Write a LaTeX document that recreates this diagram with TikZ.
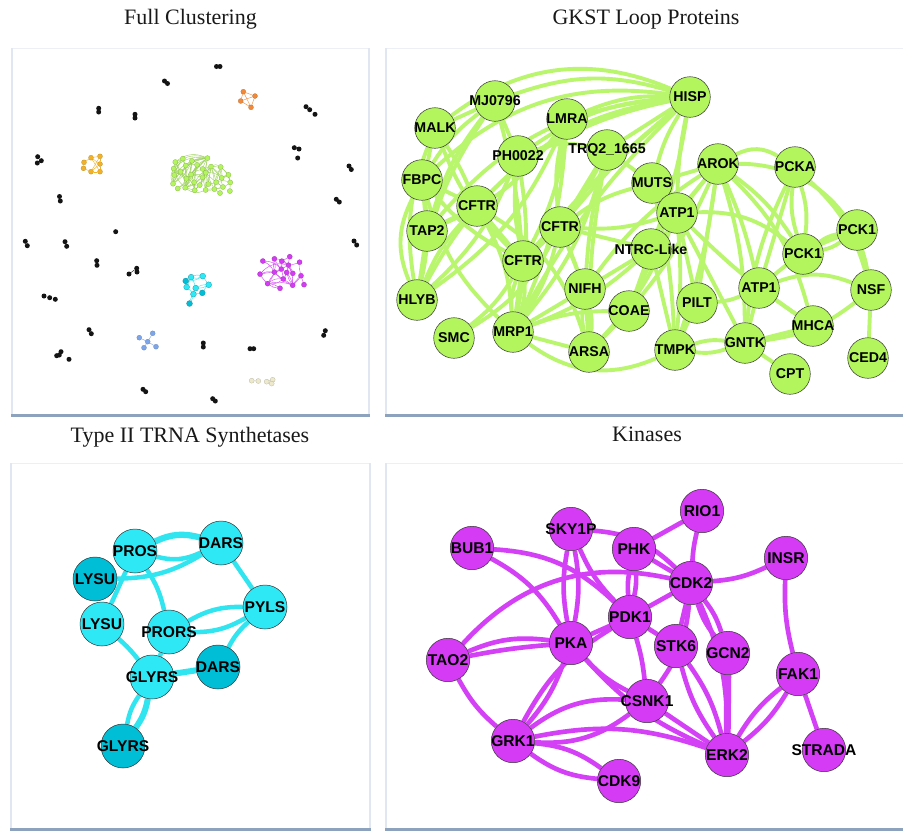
\documentclass[tikz,border=0pt]{standalone}
\usepackage{fontspec}
\setmainfont{Liberation Serif}
\newfontfamily\labelfont{Liberation Sans}

\definecolor{gfill}{RGB}{178,245,92}
\definecolor{gline}{RGB}{185,246,110}
\definecolor{cfill}{RGB}{46,233,245}
\definecolor{cdark}{RGB}{0,190,214}
\definecolor{cline}{RGB}{48,228,240}
\definecolor{mfill}{RGB}{213,58,245}
\definecolor{mline}{RGB}{211,64,245}
\definecolor{ofill}{RGB}{240,138,58}
\definecolor{yfill}{RGB}{242,178,40}
\definecolor{bfill}{RGB}{125,166,234}
\definecolor{efill}{RGB}{236,233,204}
\definecolor{frameside}{RGB}{224,231,240}
\definecolor{frametop}{RGB}{236,240,246}
\definecolor{framebar}{RGB}{141,162,188}

\pgfdeclarelayer{panels}
\pgfdeclarelayer{links}
\pgfsetlayers{panels,links,main}

% x/y/name/label
\def\gkstnodes{690/97/hisp/HISP, 495/101/mj/MJ0796, 567/119/lmra/LMRA, 435/128/malk/MALK,
 607/150/trq/TRQ2\_1665, 518/156/ph/PH0022, 718/164/arok/AROK, 795/167/pcka/PCKA,
 422/180/fbpc/FBPC, 652/183/muts/MUTS, 477/206/cftra/CFTR, 677/213/atpa/ATP1,
 560/227/cftrb/CFTR, 427/231/tap/TAP2, 857/230/pkone/PCK1, 651/249/ntrc/NTRC-Like,
 803/254/pktwo/PCK1, 523/261/cftrc/CFTR, 585/289/nifh/NIFH, 759/288/atpb/ATP1,
 871/290/nsf/NSF, 417/300/hlyb/HLYB, 697/303/pilt/PILT, 629/311/coae/COAE,
 813/326/mhca/MHCA, 454/338/smc/SMC, 513/332/mrp/MRP1, 589/352/arsa/ARSA,
 675/350/tmpk/TMPK, 745/343/gntk/GNTK, 868/358/ced/CED4, 790/374/cpt/CPT}

% from/to/bend/width
\def\gkstlinks{malk/hisp/30/3, mj/hisp/18/3, fbpc/hisp/25/3, lmra/hisp/12/3, ph/hisp/15/3,
 tap/hisp/22/3, hlyb/hisp/25/3, cftra/hisp/18/3, trq/hisp/0/3, hisp/muts/-8/3,
 hisp/cftrb/-5/3, hisp/cftrc/-5/3, hisp/mrp/-8/3, hisp/atpa/-5/3, hisp/ntrc/5/3,
 malk/hlyb/-15/3, malk/tap/-8/3, mj/malk/0/3, mj/fbpc/-10/3, mj/tap/-10/3, mj/hlyb/-12/3,
 mj/cftrc/5/3, mj/ph/0/3, fbpc/tap/0/3, fbpc/hlyb/-25/3, fbpc/hlyb/10/3, tap/hlyb/0/3,
 fbpc/cftra/0/3, fbpc/cftrc/-10/3, fbpc/mrp/-15/3, malk/cftrc/-12/3, malk/cftra/5/3,
 tap/cftra/0/3, hlyb/cftra/10/3, tap/lmra/-15/3, hlyb/ph/-12/3, hlyb/lmra/-15/3,
 cftra/cftrc/0/3, cftra/mrp/12/3, cftra/arsa/20/3, ph/trq/15/3, ph/mrp/10/3, ph/cftrc/-8/3,
 smc/cftrc/-10/3, smc/cftrb/-15/3, cftrc/mrp/12/3, cftrc/mrp/-12/3, cftrc/mrp/0/3,
 cftrc/cftrb/0/3, cftrb/mrp/10/3, cftrb/nifh/0/3, cftrb/arsa/10/3, cftrb/atpa/-10/3,
 cftrb/ntrc/0/3, cftrb/trq/0/3, cftrb/lmra/10/3, trq/muts/0/3, trq/mrp/12/3, trq/nifh/-5/3,
 trq/cftrc/10/3, trq/arsa/-5/3, lmra/mrp/10/3, lmra/cftrc/10/3, muts/atpa/0/3,
 muts/tmpk/5/3, muts/cftrb/-10/3, ntrc/nifh/0/3, ntrc/coae/0/3, ntrc/tmpk/0/3,
 ntrc/mrp/10/3, nifh/arsa/10/3, nifh/arsa/-10/3, nifh/mrp/0/3, coae/arsa/0/3,
 coae/mrp/-10/3, coae/arok/8/3, mrp/arsa/0/3, mrp/tmpk/-30/3, arsa/atpa/-10/3,
 arsa/arok/-10/3, arok/pcka/30/3, arok/nsf/40/3, arok/pktwo/10/3, arok/atpb/5/3,
 arok/pilt/0/3, arok/tmpk/5/3, arok/gntk/8/3, arok/mhca/15/3, arok/nifh/-10/3,
 arok/atpa/0/3, arok/muts/0/3, pcka/pktwo/12/3, pcka/pktwo/-12/3, pcka/nsf/15/3,
 pcka/gntk/-10/3, pcka/atpb/0/3, pkone/pktwo/12/3, pkone/pktwo/-12/3, pkone/nsf/0/3,
 pkone/atpb/-10/3, atpa/pktwo/20/3, atpa/pilt/0/3, atpa/tmpk/5/3, atpa/gntk/0/3,
 atpa/mhca/-5/3, atpb/nsf/20/3, atpb/mhca/0/3, atpb/gntk/0/3, atpb/pilt/10/3,
 nsf/ced/0/3, nsf/gntk/15/3, mhca/gntk/0/3, gntk/cpt/0/3, gntk/tmpk/12/3,
 gntk/tmpk/-12/3, pilt/tmpk/0/3}

\def\kinnodes{702/511/rio/RIO1, 571/529/sky/SKY1P, 472/548/bub/BUB1, 634/549/phk/PHK,
 786/558/insr/INSR, 691/583/cdk/CDK2, 630/617/pdk/PDK1, 571/643/pka/PKA,
 676/646/stk/STK6, 728/653/gcn/GCN2, 448/660/tao/TAO2, 798/674/fak/FAK1,
 647/701/csnk/CSNK1, 513/741/grk/GRK1, 727/755/erk/ERK2, 824/750/strada/STRADA,
 619/781/cdknine/CDK9}

\def\kinlinks{rio/phk/0/3, rio/cdk/-5/3, insr/cdk/10/3, insr/fak/-8/3, fak/strada/0/3,
 fak/erk/10/3, fak/erk/-10/3, gcn/erk/0/4.5, cdk/gcn/10/3, cdk/gcn/-10/3, cdk/erk/12/3,
 cdk/stk/0/3, cdk/csnk/15/3, cdk/pdk/0/3, tao/cdk/30/3, tao/pka/15/3, tao/pka/3/3,
 tao/grk/-10/3, bub/pdk/20/3, bub/pka/15/3, sky/pka/10/3, sky/pka/-10/3, sky/pdk/-10/3,
 sky/cdk/20/3, phk/pdk/8/3, phk/pdk/-8/3, phk/cdk/0/3, pdk/pka/0/3, pdk/stk/0/3,
 pdk/csnk/5/3, pdk/grk/-15/3, pka/grk/10/3, pka/csnk/-10/3, pka/erk/-12/3,
 stk/erk/10/3, stk/erk/-10/3, csnk/erk/0/3, grk/csnk/20/3, grk/csnk/-20/3,
 grk/erk/15/3, grk/cdknine/15/3, grk/cdknine/-15/3}

% x/y/name/label/fill
\def\trnanodes{135/551/pros/PROS/cfill, 221/543/darsa/DARS/cfill, 95/579/lysa/LYSU/cdark,
 265/607/pyls/PYLS/cfill, 102/624/lysb/LYSU/cfill, 169/632/prors/PRORS/cfill,
 218/667/darsb/DARS/cdark, 152/677/glya/GLYRS/cfill, 123/746/glyb/GLYRS/cdark}

\def\trnalinks{pros/darsa/20/4.2, pros/darsa/-20/3, lysa/darsa/-15/3, pros/lysb/0/3,
 pros/prors/10/3, darsa/pyls/0/3, prors/pyls/15/3, prors/pyls/-15/3, pyls/darsb/-10/3,
 lysb/glya/5/3, prors/glya/0/3, glya/darsb/0/4, glya/glyb/12/4, glya/glyb/-12/3}

\tikzset{
  ptitle/.style={anchor=base, font=\fontsize{22}{26}\selectfont, text=black!90},
  gnode/.style={circle, draw=black!80, line width=0.5pt, fill=gfill, minimum size=40.6pt,
    inner sep=0pt, font=\labelfont\bfseries\fontsize{14.2}{16}\selectfont},
  knode/.style={circle, draw=black!80, line width=0.5pt, fill=mfill, minimum size=43.4pt,
    inner sep=0pt, font=\labelfont\bfseries\fontsize{15.6}{17}\selectfont},
  tnode/.style={circle, draw=black!80, line width=0.5pt, minimum size=44pt,
    inner sep=0pt, font=\labelfont\bfseries\fontsize{15.6}{17}\selectfont},
  gdot/.style={circle, fill=gfill, draw=gfill!70!black, line width=0.2pt, minimum size=5.1pt, inner sep=0pt},
  mdot/.style={circle, fill=mfill, draw=mfill!70!black, line width=0.2pt, minimum size=5.1pt, inner sep=0pt},
  cdot/.style={circle, draw=cdark!70!black, line width=0.2pt, minimum size=5.9pt, inner sep=0pt},
  kdot/.style={circle, fill=black!92, minimum size=5pt, inner sep=0pt},
  sdot/.style={circle, draw=#1!75!black, fill=#1, line width=0.2pt, minimum size=5pt, inner sep=0pt},
  thinlink/.style={line width=0.4pt},
}
% labels take no width, so each circle keeps its fixed size
\newcommand\flatlabel[1]{\makebox[0pt][c]{#1}}

\begin{document}
\begin{tikzpicture}[x=1pt, y=-1pt, line join=round]
\useasboundingbox (0,0) rectangle (903,831);

% panel cards
\begin{pgfonlayer}{panels}
\fill[white] (0,0) rectangle (903,831);
\foreach \xa/\ya/\xb/\yb in {12/48/369/414, 386/48/904/414, 11/463/370/828, 386/463/904/828}{
  \fill[white] (\xa,\ya) rectangle (\xb,\yb);
  \draw[frametop, line width=0.8pt] (\xa,\ya) -- (\xb,\ya);
  \draw[frameside, line width=1.5pt] (\xa,\ya) -- (\xa,\yb);
  \draw[frameside, line width=1.5pt] (\xb,\ya) -- (\xb,\yb);
  \fill[framebar] (\xa-1,\yb) rectangle (\xb+1,\yb+3);
}
\end{pgfonlayer}

% titles
\node[ptitle] (title1) at (190.5,24.3) {Full Clustering};
\node[ptitle] (title2) at (646,24.3) {GKST Loop Proteins};
\node[ptitle] (title3) at (190,442.3) {Type II TRNA Synthetases};
\node[ptitle] (title4) at (647,441.8) {Kinases};

% ---------- GKST loop proteins ----------
\foreach \px/\py/\nm/\lbl in \gkstnodes {\node[gnode] (\nm) at (\px,\py) {\flatlabel{\lbl}};}
\begin{pgfonlayer}{links}
\foreach \ea/\eb/\bnd/\w in \gkstlinks {\draw[gline, line width={1.3*\w}] (\ea) to[bend left=\bnd] (\eb);}
\end{pgfonlayer}

% ---------- kinases ----------
\foreach \px/\py/\nm/\lbl in \kinnodes {\node[knode] (\nm) at (\px,\py) {\flatlabel{\lbl}};}
\begin{pgfonlayer}{links}
\foreach \ea/\eb/\bnd/\w in \kinlinks {\draw[mline, line width={1.55*\w}] (\ea) to[bend left=\bnd] (\eb);}
\end{pgfonlayer}

% ---------- type II tRNA synthetases ----------
\foreach \px/\py/\nm/\lbl/\fc in \trnanodes {\node[tnode, fill=\fc] (\nm) at (\px,\py) {\flatlabel{\lbl}};}
\begin{pgfonlayer}{links}
\foreach \ea/\eb/\bnd/\w in \trnalinks {\draw[cline, line width={1.5*\w}] (\ea) to[bend left=\bnd] (\eb);}
\end{pgfonlayer}

% ---------- full clustering overview ----------
\begin{scope}[shift={(120.5,145.9)}, scale=0.126]
  \foreach \px/\py/\nm/\lbl in \gkstnodes {\node[gdot] (tg\nm) at (\px,\py) {};}
  \begin{pgfonlayer}{links}
  \foreach \ea/\eb/\bnd/\w in \gkstlinks {\draw[gline!85!black, thinlink] (tg\ea) to[bend left=\bnd] (tg\eb);}
  \end{pgfonlayer}
\end{scope}
\begin{scope}[shift={(207.6,196.9)}, scale=0.117]
  \foreach \px/\py/\nm/\lbl in \kinnodes {\node[mdot] (tm\nm) at (\px,\py) {};}
  \begin{pgfonlayer}{links}
  \foreach \ea/\eb/\bnd/\w in \kinlinks {\draw[mline, thinlink] (tm\ea) to[bend left=\bnd] (tm\eb);}
  \end{pgfonlayer}
\end{scope}
\begin{scope}[shift={(172.9,202.8)}, scale=0.135]
  \foreach \px/\py/\nm/\lbl/\fc in \trnanodes {\node[cdot, fill=\fc] (tc\nm) at (\px,\py) {};}
  \begin{pgfonlayer}{links}
  \foreach \ea/\eb/\bnd/\w in \trnalinks {\draw[cline, thinlink] (tc\ea) to[bend left=\bnd] (tc\eb);}
  \end{pgfonlayer}
\end{scope}

% orange group
\node[sdot=ofill] (o1) at (243.3,91.7) {};
\node[sdot=ofill] (o2) at (255,96) {};
\node[sdot=ofill] (o3) at (240.7,101) {};
\node[sdot=ofill] (o4) at (251,107.3) {};
\begin{pgfonlayer}{links}
\foreach \ea/\eb in {o1/o2, o1/o3, o1/o4, o2/o3, o2/o4, o3/o4}{\draw[ofill, thinlink] (\ea) -- (\eb);}
\end{pgfonlayer}

% yellow group
\node[sdot=yfill] (y1) at (84,162.3) {};
\node[sdot=yfill] (y2) at (83.5,168.3) {};
\node[sdot=yfill] (y3) at (91,157.7) {};
\node[sdot=yfill] (y4) at (91,171.7) {};
\node[sdot=yfill] (y5) at (100,156.3) {};
\node[sdot=yfill] (y6) at (100,164) {};
\node[sdot=yfill] (y7) at (100,171.7) {};
\begin{pgfonlayer}{links}
\foreach \ea/\eb in {y1/y2, y1/y3, y2/y4, y3/y5, y3/y6, y3/y7, y4/y6, y4/y7, y5/y6, y6/y7, y4/y5}{\draw[yfill, thinlink] (\ea) -- (\eb);}
\end{pgfonlayer}

% blue group
\node[sdot=bfill] (b1) at (139.3,337.7) {};
\node[sdot=bfill] (b2) at (152.7,333.3) {};
\node[sdot=bfill] (b3) at (147.7,341.7) {};
\node[sdot=bfill] (b4) at (144,347.7) {};
\node[sdot=bfill] (b5) at (156,346.7) {};
\begin{pgfonlayer}{links}
\foreach \ea/\eb in {b3/b1, b3/b2, b3/b4, b3/b5}{\draw[bfill, thinlink] (\ea) -- (\eb);}
\end{pgfonlayer}

% pale group
\node[sdot=efill] (e1) at (251.7,380.7) {};
\node[sdot=efill] (e2) at (258.3,381) {};
\node[sdot=efill] (e3) at (266.7,381.7) {};
\node[sdot=efill] (e4) at (272.7,379.8) {};
\node[sdot=efill] (e5) at (271.7,383.6) {};
\begin{pgfonlayer}{links}
\foreach \ea/\eb in {e1/e2, e3/e4, e3/e5, e4/e5}{\draw[efill!70!black, thinlink] (\ea) -- (\eb);}
\end{pgfonlayer}

% singleton pairs and triples
\foreach \px/\py [count=\i] in {216.5/66.5, 220/66.5, 164.5/81, 167.5/83.5, 98.7/108.3, 98.7/112,
  135/114.3, 135/118, 306/106.7, 309.7/109.7, 315/114.3, 294.3/147.7, 299/149, 297.7/158,
  37.7/156.7, 41.3/160.7, 37.3/163, 349/166, 351.3/169.5, 59.5/196.5, 60.3/201,
  336.3/199.3, 339.3/202, 115.7/231.7, 25.3/241.3, 27.3/245.7, 65/241.7, 66.7/246.3,
  354/241, 356.7/245, 96.7/260.7, 97/265.3, 129/274, 136.7/268.3, 137/272,
  44/296, 49.7/297.7, 55.3/299.3, 89/329.7, 91.3/333.7, 203.3/343, 203.3/347,
  250/348.7, 253.7/348.7, 325.3/330.7, 323.7/335.3, 56.7/355.7, 61/351.7, 59.3/355,
  69/359.3, 143/389.3, 145.7/391.7, 212.7/398.7, 215.3/401}
  {\node[kdot] (k\i) at (\px,\py) {};}
\begin{pgfonlayer}{links}
\foreach \ea/\eb in {k1/k2, k7/k8, k12/k13, k33/k34, k41/k42, k43/k44, k47/k48}{\draw[black, thinlink] (\ea) -- (\eb);}
\end{pgfonlayer}

\end{tikzpicture}
\end{document}
